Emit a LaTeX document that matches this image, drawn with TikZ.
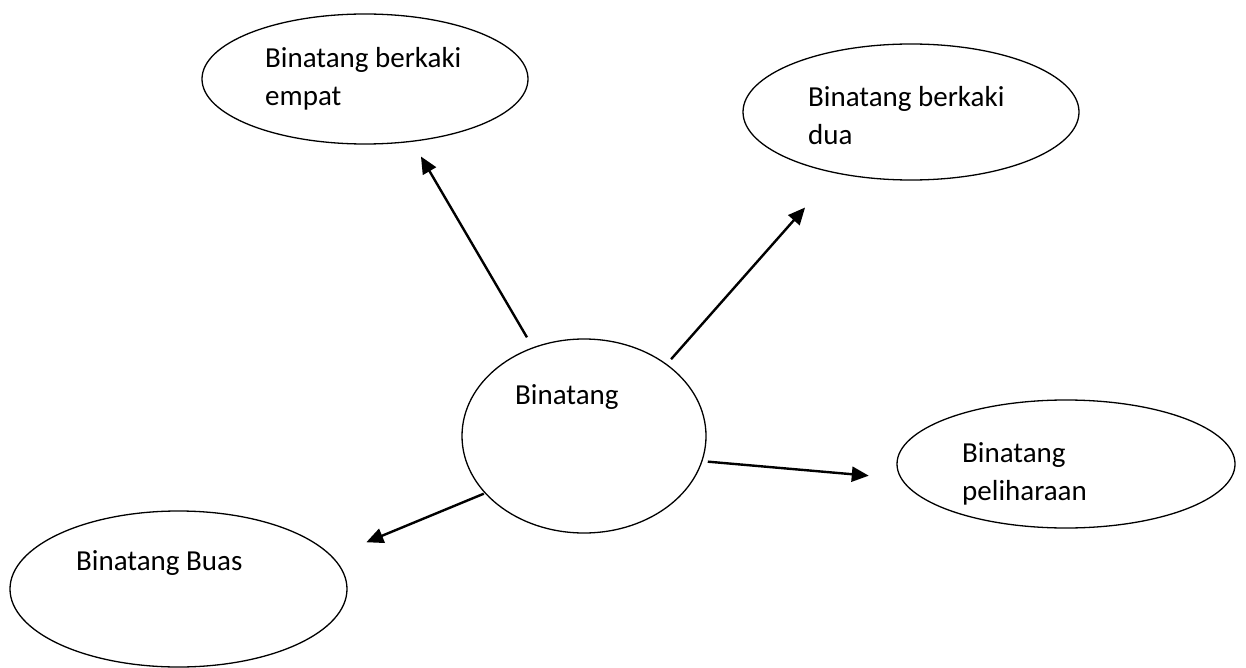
\documentclass[tikz,border=0pt]{standalone}
\usepackage{fontspec}
\setmainfont{Carlito}
\usetikzlibrary{shapes.geometric,arrows.meta}
\tikzset{
  animalmap/.style={x=1pt,y=-1pt},
  bubble/.style={ellipse,draw,line width=1.3pt,inner sep=0pt},
  tag/.style={anchor=base west,inner sep=0pt,align=left,font=\fontsize{29}{38}\selectfont},
  link/.style={line width=2.4pt,-{Triangle[length=17pt,width=15pt]}}
}

\begin{document}
\begin{tikzpicture}[animalmap]
    \useasboundingbox (0,0) rectangle (1246,668);
    % the five bubbles
    \node[bubble,minimum width=326pt,minimum height=130pt] (empat) at (365,79) {};
    \node[bubble,minimum width=336pt,minimum height=136pt] (dua) at (911,112) {};
    \node[bubble,minimum width=244pt,minimum height=194pt] (binatang) at (584,436) {};
    \node[bubble,minimum width=338pt,minimum height=128pt] (peliharaan) at (1066,464) {};
    \node[bubble,minimum width=337pt,minimum height=156pt] (buas) at (178.5,589) {};
    % texts, set left as in the boxes (base = last line)
    \node[tag] (empat-t) at (265,106) {Binatang berkaki\\empat};
    \node[tag] (dua-t) at (808,145) {Binatang berkaki\\dua};
    \node[tag] (binatang-t) at (515,404) {Binatang};
    \node[tag] (peliharaan-t) at (962,500) {Binatang\\peliharaan};
    \node[tag] (buas-t) at (76,570) {Binatang Buas};
    % arrows out of the middle
    \draw[link,shorten <=11.5pt,shorten >=17pt] (binatang.120) -- (empat.307);
    \draw[link,shorten <=6.4pt,shorten >=45.6pt] (binatang.41) -- (dua.219);
    \draw[link,shorten <=5.3pt,shorten >=32pt] (binatang.348) -- (peliharaan.185);
    \draw[link,shorten <=1pt,shorten >=36.8pt] (binatang.210) -- (buas.12);
\end{tikzpicture}
\end{document}
